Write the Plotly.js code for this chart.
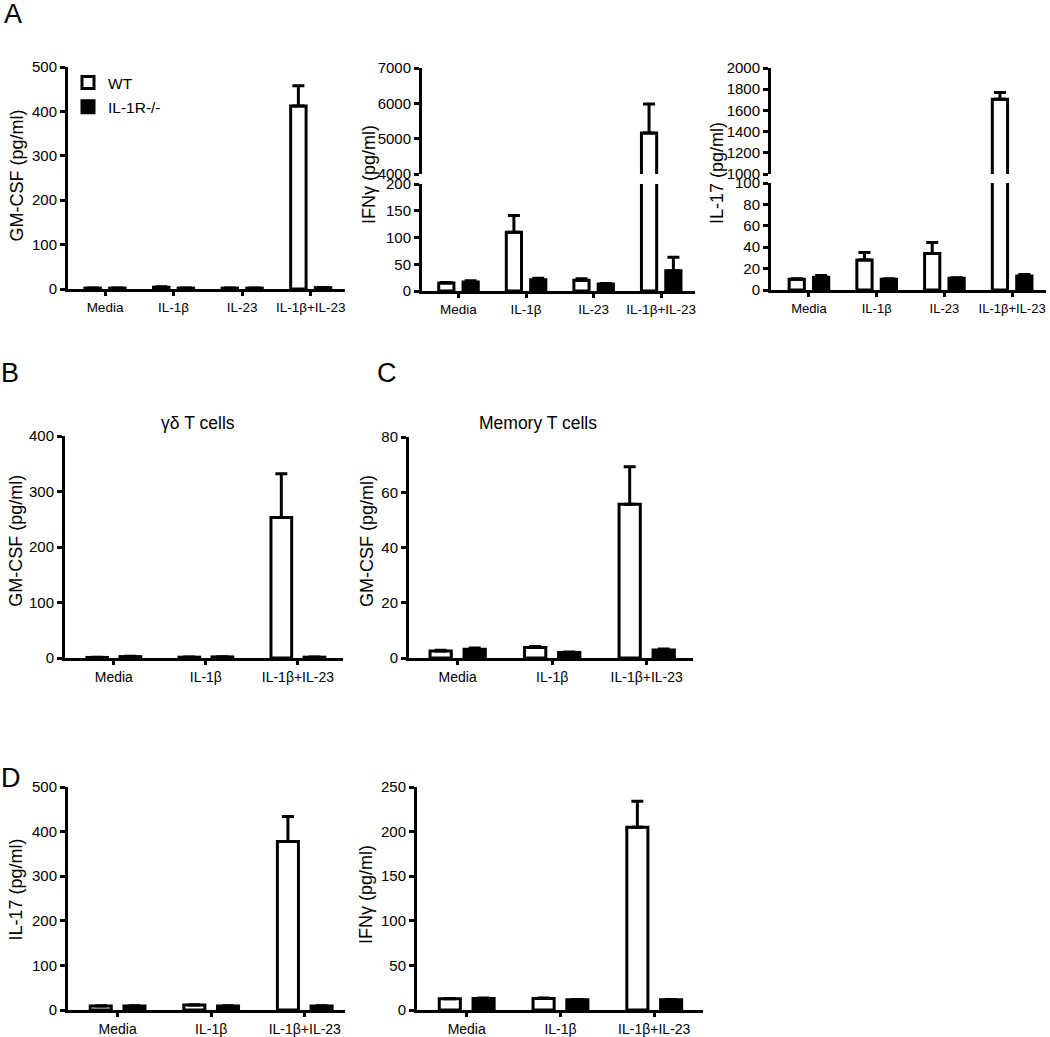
<!DOCTYPE html>
<html>
<head>
<meta charset="utf-8">
<script src="https://cdn.plot.ly/plotly-3.0.1.min.js"></script>
<style>
html,body{margin:0;padding:0;background:#fff;}
#chart{width:1050px;height:1037px;}
</style>
</head>
<body>
<div id="chart"></div>
<script>
// ---------- DATA ----------
const catsA = ['Media', 'IL-1β', 'IL-23', 'IL-1β+IL-23'];
const catsBCD = ['Media', 'IL-1β', 'IL-1β+IL-23'];
const seriesNames = ['WT', 'IL-1R-/-'];

// Panel A: GM-CSF
const a1WT = [2, 4, 2, 412];
const a1WTerr = [0.5, 1, 0.5, 46];
const a1KO = [2, 2, 2, 3];
const a1KOerr = [0.5, 0.5, 0.5, 0.5];

// Panel A: IFNγ (broken axis)
const a2WT = [15, 110, 20, 5160];
const a2WTerr = [1, 31, 3, 820];
const a2KO = [17, 21, 13, 38];
const a2KOerr = [2, 3, 1, 25];

// Panel A: IL-17 (broken axis)
const a3WT = [10, 28, 34, 1705];
const a3WTerr = [0.5, 7, 10.5, 65];
const a3KO = [12, 10, 11, 13];
const a3KOerr = [1.5, 0.5, 0.5, 1.5];

// Panel B: γδ T cells GM-CSF
const bWT = [1, 1.5, 253];
const bWTerr = [0.3, 0.3, 79];
const bKO = [2.5, 2, 1.5];
const bKOerr = [0.5, 0.3, 0.3];

// Panel C: Memory T cells GM-CSF
const cWT = [2.5, 3.8, 55.7];
const cWTerr = [0.3, 0.4, 13.5];
const cKO = [3.2, 2.0, 2.9];
const cKOerr = [0.4, 0.2, 0.4];

// Panel D: IL-17
const d1WT = [9, 11, 378];
const d1WTerr = [0.5, 0.5, 56];
const d1KO = [9, 9, 9];
const d1KOerr = [0.5, 0.5, 0.5];

// Panel D: IFNγ
const d2WT = [12.5, 13, 205];
const d2WTerr = [0.5, 0.5, 29];
const d2KO = [13, 11.4, 11.4];
const d2KOerr = [0.5, 0.5, 0.5];

// ---------- LAYOUT HELPERS ----------
const W = 1050, H = 1037;
const fx = p => p / W;
const fy = p => 1 - p / H;
const FONT = 'Liberation Sans, Arial, Helvetica, sans-serif';
const YTICK = 15;
const TITLE = 18;

function barTrace(x, y, err, idx, xa, ya, showlegend) {
  const isWT = idx === 0;
  return {
    type: 'bar',
    x: x, y: y,
    name: seriesNames[idx],
    legendgroup: isWT ? 'wt' : 'ko',
    showlegend: !!showlegend,
    xaxis: xa, yaxis: ya,
    marker: {color: isWT ? '#ffffff' : '#000000', line: {color: '#000000', width: 3}},
    error_y: {type: 'data', array: err, arrayminus: err.map(() => 0), symmetric: false,
              color: '#000000', thickness: 3, width: 6},
    hoverinfo: 'x+y+name'
  };
}

const traces = [];
function addPair(cats, wt, wtErr, ko, koErr, xa, ya, legend) {
  traces.push(barTrace(cats, wt, wtErr, 0, xa, ya, legend));
  traces.push(barTrace(cats, ko, koErr, 1, xa, ya, legend));
}

addPair(catsA, a1WT, a1WTerr, a1KO, a1KOerr, 'x', 'y', true);
addPair(catsA, a2WT, a2WTerr, a2KO, a2KOerr, 'x2', 'y2', false);
addPair(catsA, a2WT, a2WTerr, a2KO, a2KOerr, 'x2', 'y3', false);
addPair(catsA, a3WT, a3WTerr, a3KO, a3KOerr, 'x3', 'y4', false);
addPair(catsA, a3WT, a3WTerr, a3KO, a3KOerr, 'x3', 'y5', false);
addPair(catsBCD, bWT, bWTerr, bKO, bKOerr, 'x4', 'y6', false);
addPair(catsBCD, cWT, cWTerr, cKO, cKOerr, 'x5', 'y7', false);
addPair(catsBCD, d1WT, d1WTerr, d1KO, d1KOerr, 'x6', 'y8', false);
addPair(catsBCD, d2WT, d2WTerr, d2KO, d2KOerr, 'x7', 'y9', false);

function xAxis(x0, x1, anchor, range, fsize) {
  return {
    domain: [fx(x0), fx(x1)], anchor: anchor, type: 'category', range: range,
    showline: true, linewidth: 3, linecolor: '#000', mirror: false,
    ticks: 'outside', ticklen: 4, tickwidth: 2.5, tickcolor: '#000',
    showgrid: false, zeroline: false, fixedrange: true,
    tickfont: {family: FONT, size: fsize || 14, color: '#000'}
  };
}
function yAxis(y0, y1, anchor, range, dtick) {
  return {
    domain: [fy(y0), fy(y1)], anchor: anchor, range: range, dtick: dtick, tick0: range[0],
    showline: true, linewidth: 3, linecolor: '#000',
    ticks: 'outside', ticklen: 5, tickwidth: 2.5, tickcolor: '#000',
    showgrid: false, zeroline: false, fixedrange: true,
    tickfont: {family: FONT, size: YTICK, color: '#000'}
  };
}

const rA = [-0.54, 3.5];
const layout = {
  width: W, height: H,
  margin: {l: 0, r: 0, t: 0, b: 0, pad: 0},
  paper_bgcolor: '#fff', plot_bgcolor: 'rgba(0,0,0,0)',
  font: {family: FONT, size: 14, color: '#000'},
  barmode: 'group', bargap: 0.28, bargroupgap: 0.375,
  showlegend: true,
  legend: {x: fx(68), y: fy(66), xanchor: 'left', yanchor: 'top',
           bgcolor: 'rgba(0,0,0,0)', borderwidth: 0,
           font: {family: FONT, size: 15.5, color: '#000'},
           traceorder: 'grouped', tracegroupgap: 1, itemwidth: 30},
  xaxis:  xAxis(68, 345, 'y', rA, 13.5),
  yaxis:  yAxis(289, 67, 'x', [0, 500], 100),
  xaxis2: xAxis(422, 695, 'y2', rA, 13.5),
  yaxis2: yAxis(291, 184, 'x2', [0, 200], 50),
  yaxis3: yAxis(174, 68, 'x2', [4000, 7000], 1000),
  xaxis3: xAxis(771, 1046, 'y4', [-0.56, 3.5], 13),
  yaxis4: yAxis(290, 183, 'x3', [0, 100], 20),
  yaxis5: yAxis(174, 68, 'x3', [1000, 2000], 200),
  xaxis4: xAxis(65, 343, 'y6', [-0.53, 2.49]),
  yaxis6: yAxis(658, 436, 'x4', [0, 400], 100),
  xaxis5: xAxis(409, 693, 'y7', [-0.515, 2.49]),
  yaxis7: yAxis(658, 437, 'x5', [0, 80], 20),
  xaxis6: xAxis(68, 345, 'y8', [-0.53, 2.43]),
  yaxis8: yAxis(1010, 787, 'x6', [0, 500], 100),
  xaxis7: xAxis(417, 703, 'y9', [-0.53, 2.52]),
  yaxis9: yAxis(1010, 787, 'x7', [0, 250], 50),
  annotations: []
};

function ann(text, x, y, size, angle, xanchor) {
  layout.annotations.push({
    text: text, xref: 'paper', yref: 'paper', x: fx(x), y: fy(y),
    xanchor: xanchor || 'center', yanchor: 'middle', showarrow: false,
    textangle: angle || 0, font: {family: FONT, size: size, color: '#000'}
  });
}
// y-axis titles
ann('GM-CSF (pg/ml)', 16.5, 176, TITLE, -90);
ann('IFNγ (pg/ml)', 369, 175, TITLE, -90);
ann('IL-17 (pg/ml)', 717, 173, TITLE, -90);
ann('GM-CSF (pg/ml)', 15.7, 541, TITLE, -90);
ann('GM-CSF (pg/ml)', 367, 541, TITLE, -90);
ann('IL-17 (pg/ml)', 15.5, 890, TITLE, -90);
ann('IFNγ (pg/ml)', 366, 895, TITLE, -90);
// subplot titles
ann('γδ T cells', 198, 423, 17.5, 0);
ann('Memory T cells', 538, 423, 17.5, 0);
// panel letters
ann('A', 2, 14, 27, 0, 'left');
ann('B', -1, 373, 27, 0, 'left');
ann('C', 375, 373, 27, 0, 'left');
ann('D', -1, 778, 27, 0, 'left');

Plotly.newPlot('chart', traces, layout, {displayModeBar: false, responsive: false});
</script>
</body>
</html>
